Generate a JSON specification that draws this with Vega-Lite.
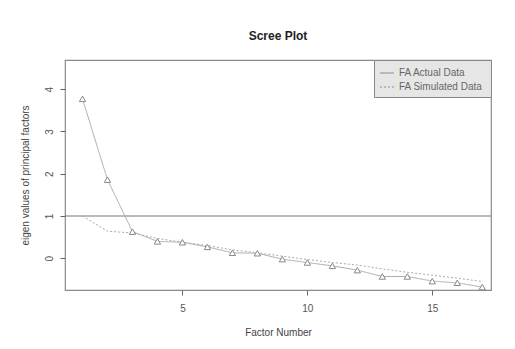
{
  "$schema": "https://vega.github.io/schema/vega-lite/v6.json",
  "width": 426,
  "height": 230,
  "autosize": {"type": "none"},
  "padding": {"left": 65, "top": 60, "right": 24, "bottom": 59},
  "background": "white",
  "title": {"text": "Scree Plot", "fontSize": 12, "font": "Liberation Sans", "fontWeight": "bold", "color": "#222", "offset": 17, "anchor": "middle"},
  "config": {
    "view": {"stroke": "#8a8a8a", "strokeWidth": 1.2},
    "axis": {"grid": false, "domain": false, "tickColor": "#666", "tickSize": 5, "labelFont": "Liberation Sans", "labelFontSize": 10, "labelColor": "#555", "titleFont": "Liberation Sans", "titleFontSize": 10, "titleFontWeight": "normal", "titleColor": "#444"},
    "legend": {"labelFont": "Liberation Sans", "labelFontSize": 10, "labelColor": "#666"}
  },
  "datasets": {
    "scree": [
      {"factor": 1, "value": 3.77, "series": "FA  Actual Data"},
      {"factor": 2, "value": 1.86, "series": "FA  Actual Data"},
      {"factor": 3, "value": 0.63, "series": "FA  Actual Data"},
      {"factor": 4, "value": 0.40, "series": "FA  Actual Data"},
      {"factor": 5, "value": 0.38, "series": "FA  Actual Data"},
      {"factor": 6, "value": 0.27, "series": "FA  Actual Data"},
      {"factor": 7, "value": 0.13, "series": "FA  Actual Data"},
      {"factor": 8, "value": 0.12, "series": "FA  Actual Data"},
      {"factor": 9, "value": -0.02, "series": "FA  Actual Data"},
      {"factor": 10, "value": -0.10, "series": "FA  Actual Data"},
      {"factor": 11, "value": -0.18, "series": "FA  Actual Data"},
      {"factor": 12, "value": -0.28, "series": "FA  Actual Data"},
      {"factor": 13, "value": -0.43, "series": "FA  Actual Data"},
      {"factor": 14, "value": -0.43, "series": "FA  Actual Data"},
      {"factor": 15, "value": -0.54, "series": "FA  Actual Data"},
      {"factor": 16, "value": -0.58, "series": "FA  Actual Data"},
      {"factor": 17, "value": -0.68, "series": "FA  Actual Data"},
      {"factor": 1, "value": 1.0, "series": "FA  Simulated Data"},
      {"factor": 2, "value": 0.64, "series": "FA  Simulated Data"},
      {"factor": 3, "value": 0.6, "series": "FA  Simulated Data"},
      {"factor": 4, "value": 0.47, "series": "FA  Simulated Data"},
      {"factor": 5, "value": 0.38, "series": "FA  Simulated Data"},
      {"factor": 6, "value": 0.3, "series": "FA  Simulated Data"},
      {"factor": 7, "value": 0.2, "series": "FA  Simulated Data"},
      {"factor": 8, "value": 0.13, "series": "FA  Simulated Data"},
      {"factor": 9, "value": 0.05, "series": "FA  Simulated Data"},
      {"factor": 10, "value": -0.03, "series": "FA  Simulated Data"},
      {"factor": 11, "value": -0.1, "series": "FA  Simulated Data"},
      {"factor": 12, "value": -0.16, "series": "FA  Simulated Data"},
      {"factor": 13, "value": -0.25, "series": "FA  Simulated Data"},
      {"factor": 14, "value": -0.33, "series": "FA  Simulated Data"},
      {"factor": 15, "value": -0.4, "series": "FA  Simulated Data"},
      {"factor": 16, "value": -0.47, "series": "FA  Simulated Data"},
      {"factor": 17, "value": -0.55, "series": "FA  Simulated Data"}
    ],
    "ref": [{"y": 1}]
  },
  "layer": [
    {
      "data": {"name": "ref"},
      "mark": {"type": "rule", "color": "#777", "strokeWidth": 1},
      "encoding": {"y": {"field": "y", "type": "quantitative", "scale": {"domain": [-0.75, 4.69], "nice": false, "zero": false}}}
    },
    {
      "data": {"name": "scree"},
      "mark": {"type": "line", "color": "#aaaaaa", "strokeWidth": 1},
      "encoding": {
        "x": {"field": "factor", "type": "quantitative", "title": "Factor Number", "scale": {"domain": [0.3, 17.35], "nice": false, "zero": false}, "axis": {"values": [5, 10, 15], "labelPadding": 8, "titlePadding": 14}},
        "y": {"field": "value", "type": "quantitative", "title": "eigen values of principal factors", "scale": {"domain": [-0.75, 4.69], "nice": false, "zero": false}, "axis": {"values": [0, 1, 2, 3, 4], "labelAngle": -90, "labelAlign": "center", "labelBaseline": "bottom", "labelPadding": 6, "titlePadding": 14}},
        "detail": {"field": "series"},
        "strokeDash": {"field": "series", "type": "nominal", "scale": {"domain": ["FA  Actual Data", "FA  Simulated Data"], "range": [[1, 0], [2, 2]]}, "legend": {"title": null, "orient": "top-right", "offset": 0, "fillColor": "#e6e6e6", "strokeColor": "#888", "padding": 5, "symbolType": "stroke", "symbolStrokeColor": "#aaa", "symbolSize": 200, "rowPadding": 1}}
      }
    },
    {
      "data": {"name": "scree"},
      "transform": [{"filter": "datum.series === 'FA  Actual Data'"}],
      "mark": {"type": "point", "shape": "triangle-up", "filled": true, "fill": "white", "stroke": "#888", "strokeWidth": 1, "size": 40, "opacity": 1},
      "encoding": {
        "x": {"field": "factor", "type": "quantitative"},
        "y": {"field": "value", "type": "quantitative"}
      }
    }
  ]
}
